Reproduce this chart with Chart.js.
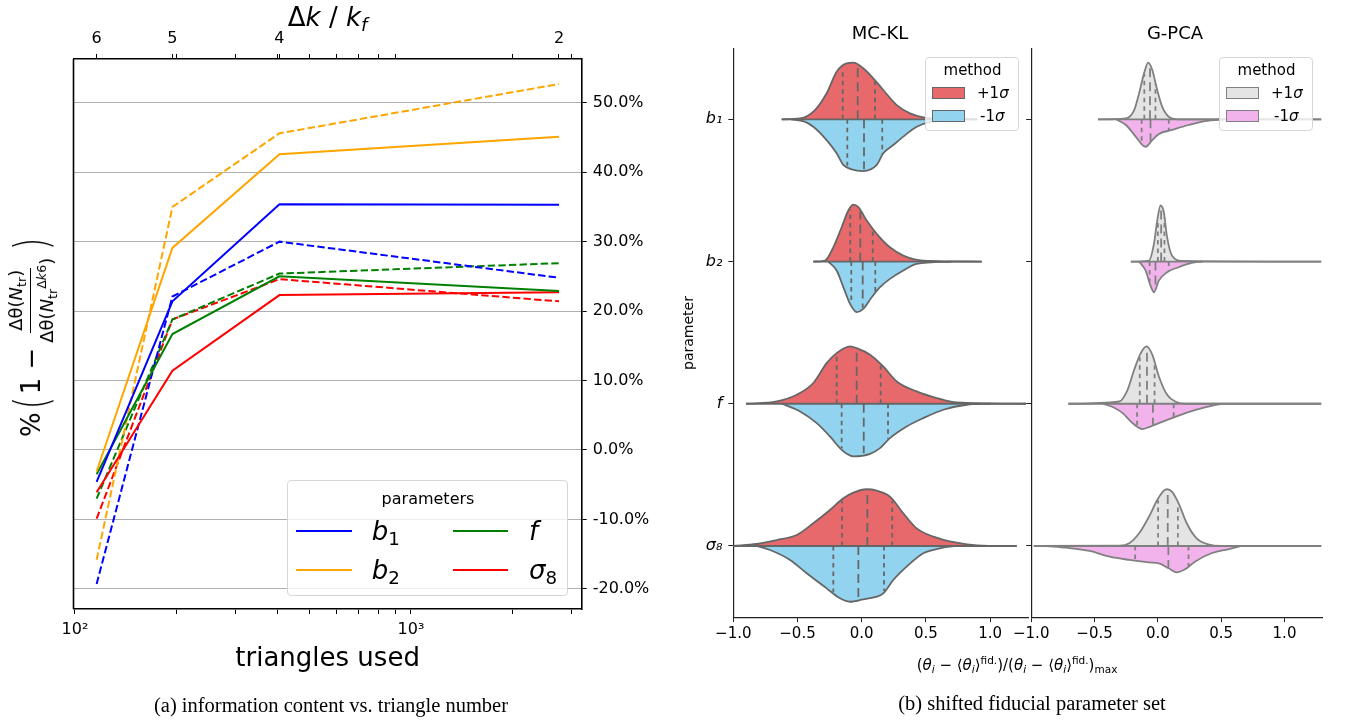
<!DOCTYPE html>
<html>
<head>
<meta charset="utf-8">
<script src="https://cdn.jsdelivr.net/npm/chart.js@4.4.1/dist/chart.umd.min.js"></script>
<style>
  body { margin: 0; background: #fff; font-family: "DejaVu Sans", sans-serif; }
  #page { position: relative; width: 1346px; height: 722px; overflow: hidden; }
  canvas { position: absolute; }
  .c { position: absolute; transform: translate(-50%, -50%); white-space: nowrap; }
  .l { position: absolute; transform: translateY(-50%); white-space: nowrap; }
  .cap { font-family: "Liberation Serif", "Times New Roman", serif; font-size: 20.5px; }
  sub { font-size: 0.7em; vertical-align: -0.3em; line-height: 0; font-style: normal; }
  sup { font-size: 0.7em; vertical-align: 0.55em; line-height: 0; }
  .legbox { position: absolute; background: rgba(255,255,255,0.8); border: 1px solid #d6d6d6; border-radius: 4px; box-sizing: border-box; }
  .hl { position: absolute; height: 2px; }
  .patch { position: absolute; height: 12px; box-sizing: border-box; border: 1px solid; }
  .frac { display: inline-flex; flex-direction: column; align-items: center; font-size: 18px; vertical-align: middle; margin: 0 3px; }
  .frac .num { border-bottom: 1.5px solid #000; padding: 0 2px 3px; line-height: 1.2; }
  .frac .den { padding: 5px 2px 0; line-height: 1.2; }
  .paren { font-size: 46px; font-weight: 200; transform: scaleX(0.7); display: inline-block; vertical-align: middle; }
</style>
</head>
<body>
<div id="page">
  <canvas id="lines" width="690" height="722" style="left:0;top:0"></canvas>
  <canvas id="mckl" width="352" height="700" style="left:680px;top:0"></canvas>
  <canvas id="gpca" width="336" height="700" style="left:1010px;top:0"></canvas>

  <!-- left panel texts -->
  <div class="c" style="left:327.6px;top:17px;font-size:26px">Δ<i>k</i> / <i>k</i><sub><i>f</i></sub></div>
  <div class="c" style="left:327.6px;top:657px;font-size:26px">triangles used</div>
  <div class="c" style="left:31px;top:336px;font-size:26px;transform:translate(-50%,-50%) rotate(-90deg);display:flex;align-items:center">
    <span>%</span><span class="paren">(</span><span>1 −</span>
    <span class="frac"><span class="num">Δθ(<i>N</i><sub>tr</sub>)</span><span class="den">Δθ(<i>N</i><sub>tr</sub><sup>Δ<i>k</i>6</sup>)</span></span>
    <span class="paren">)</span>
  </div>
  <div class="legbox" style="left:286.7px;top:480px;width:281.6px;height:115.7px"></div>
  <div class="c" style="left:428px;top:498px;font-size:16px">parameters</div>
  <div class="hl" style="left:296px;top:530px;width:56px;background:#0000ff"></div>
  <div class="l" style="left:371.7px;top:531px;font-size:26px"><i>b</i><sub>1</sub></div>
  <div class="hl" style="left:296px;top:569px;width:56px;background:#ffa500"></div>
  <div class="l" style="left:371.7px;top:570px;font-size:26px"><i>b</i><sub>2</sub></div>
  <div class="hl" style="left:453.3px;top:530px;width:55px;background:#008000"></div>
  <div class="l" style="left:529px;top:531px;font-size:26px"><i>f</i></div>
  <div class="hl" style="left:453.3px;top:569px;width:55px;background:#ff0000"></div>
  <div class="l" style="left:529px;top:570px;font-size:26px"><i>σ</i><sub>8</sub></div>
  <div class="c cap" style="left:331px;top:705px">(a) information content vs. triangle number</div>

  <!-- right panel texts -->
  <div class="c" style="left:880px;top:32px;font-size:18px">MC-KL</div>
  <div class="c" style="left:1175px;top:32px;font-size:18px">G-PCA</div>
  <div class="c" style="left:688px;top:333px;font-size:14px;transform:translate(-50%,-50%) rotate(-90deg)">parameter</div>
  <div class="c" style="left:1017px;top:665px;font-size:15px">(<i>θ</i><sub><i>i</i></sub> − ⟨<i>θ</i><sub><i>i</i></sub>⟩<sup>fid.</sup>)/(<i>θ</i><sub><i>i</i></sub> − ⟨<i>θ</i><sub><i>i</i></sub>⟩<sup>fid.</sup>)<sub>max</sub></div>
  <div class="c cap" style="left:1032px;top:703px">(b) shifted fiducial parameter set</div>

  <div class="legbox" style="left:925.3px;top:56.7px;width:94px;height:74px"></div>
  <div class="c" style="left:972.5px;top:70px;font-size:15px">method</div>
  <div class="patch" style="left:932.3px;top:86.5px;width:33px;background:#e8696b;border-color:#666"></div>
  <div class="l" style="left:977px;top:92.5px;font-size:15px">+1<i>σ</i></div>
  <div class="patch" style="left:932.3px;top:109.5px;width:33px;background:#92d4ef;border-color:#666"></div>
  <div class="l" style="left:980px;top:115.5px;font-size:15px">-1<i>σ</i></div>

  <div class="legbox" style="left:1219.3px;top:56.7px;width:94px;height:74px"></div>
  <div class="c" style="left:1266.5px;top:70px;font-size:15px">method</div>
  <div class="patch" style="left:1226px;top:86.5px;width:33px;background:#e4e4e4;border-color:#808080"></div>
  <div class="l" style="left:1271px;top:92.5px;font-size:15px">+1<i>σ</i></div>
  <div class="patch" style="left:1226px;top:109.5px;width:33px;background:#f2b3ec;border-color:#808080"></div>
  <div class="l" style="left:1274px;top:115.5px;font-size:15px">-1<i>σ</i></div>
</div>

<script>
// ---- panel (a): information content vs. number of triangles ----
const triangles = [116, 195, 406, 2757];
const dkLabels = ["6", "5", "4", "2"];
const b1Solid = [-4.6, 21.4, 35.4, 35.3];
const b1Dashed = [-19.3, 22.1, 30.0, 24.8];
const b2Solid = [-3.1, 29.1, 42.6, 45.1];
const b2Dashed = [-15.8, 35.0, 45.6, 52.7];
const fSolid = [-3.5, 16.7, 25.0, 22.9];
const fDashed = [-7.0, 18.8, 25.4, 26.9];
const s8Solid = [-6.1, 11.4, 22.3, 22.7];
const s8Dashed = [-9.9, 18.8, 24.6, 21.4];
const percentTicks = [-20, -10, 0, 10, 20, 30, 40, 50];
const logTicks = [100, 200, 300, 400, 500, 600, 700, 800, 900, 1000, 2000, 3000];
const logMinorTicks = [200, 300, 400, 500, 600, 700, 800, 900, 2000, 3000];

// ---- panel (b): violins, rows = b1, b2, f, sigma8; points are [x, half width] ----
const params = ["b₁", "b₂", "f", "σ₈"];
const xTicksB = [-1, -0.5, 0, 0.5, 1];
const mcklPlus = [
  [[-0.623,0],[-0.48,0.006],[-0.364,0.065],[-0.273,0.183],[-0.195,0.335],[-0.117,0.394],[-0.065,0.398],[0.012,0.359],[0.09,0.288],[0.168,0.206],[0.273,0.10],[0.376,0.042],[0.48,0.014],[0.6,0.003],[0.9,0]],
  [[-0.377,0],[-0.286,0.007],[-0.221,0.10],[-0.156,0.241],[-0.104,0.359],[-0.065,0.40],[-0.026,0.382],[0.039,0.288],[0.117,0.195],[0.22,0.10],[0.324,0.042],[0.48,0.007],[0.935,0]],
  [[-0.90,0],[-0.662,0.016],[-0.506,0.063],[-0.377,0.146],[-0.273,0.286],[-0.195,0.356],[-0.091,0.403],[-0.039,0.391],[0.065,0.345],[0.168,0.262],[0.273,0.157],[0.428,0.087],[0.584,0.04],[0.74,0.009],[1.28,0]],
  [[-1.0,0],[-0.818,0.014],[-0.662,0.042],[-0.506,0.077],[-0.377,0.16],[-0.247,0.253],[-0.143,0.335],[-0.065,0.375],[0.039,0.399],[0.117,0.389],[0.22,0.347],[0.324,0.23],[0.428,0.124],[0.558,0.066],[0.74,0.023],[0.9,0.005],[1.207,0]]
];
const mcklMinus = [
  [[-0.55,0],[-0.45,0.015],[-0.377,0.052],[-0.273,0.146],[-0.195,0.239],[-0.143,0.321],[-0.078,0.352],[0.012,0.364],[0.117,0.321],[0.168,0.239],[0.246,0.181],[0.324,0.122],[0.428,0.052],[0.53,0.02],[0.75,0]],
  [[-0.26,0],[-0.195,0.063],[-0.143,0.18],[-0.091,0.297],[-0.039,0.356],[0.012,0.333],[0.078,0.251],[0.143,0.18],[0.22,0.122],[0.324,0.063],[0.428,0.016],[0.7,0]],
  [[-0.62,0],[-0.48,0.054],[-0.35,0.136],[-0.247,0.23],[-0.169,0.312],[-0.117,0.352],[-0.065,0.37],[0.065,0.352],[0.143,0.312],[0.22,0.242],[0.35,0.16],[0.48,0.101],[0.636,0.042],[0.818,0.007],[1.0,0]],
  [[-0.82,0],[-0.714,0.028],[-0.558,0.098],[-0.428,0.192],[-0.273,0.298],[-0.169,0.368],[-0.091,0.392],[0.012,0.375],[0.117,0.356],[0.168,0.333],[0.246,0.239],[0.35,0.145],[0.48,0.051],[0.61,0.016],[0.72,0]]
];
const gpcaPlus = [
  [[-0.473,0],[-0.252,0.007],[-0.187,0.065],[-0.148,0.183],[-0.109,0.323],[-0.076,0.398],[-0.044,0.347],[-0.005,0.206],[0.034,0.089],[0.086,0.018],[0.16,0],[1.29,0]],
  [[-0.213,0],[-0.07,0.007],[-0.031,0.124],[-0.005,0.288],[0.021,0.394],[0.047,0.347],[0.073,0.171],[0.111,0.042],[0.19,0.005],[1.29,0]],
  [[-0.707,0],[-0.304,0.016],[-0.239,0.098],[-0.187,0.239],[-0.135,0.356],[-0.089,0.403],[-0.044,0.345],[0.008,0.192],[0.073,0.063],[0.137,0.016],[0.24,0],[1.29,0]],
  [[-0.98,0],[-0.3,0.002],[-0.226,0.019],[-0.148,0.089],[-0.07,0.206],[-0.005,0.323],[0.047,0.389],[0.073,0.399],[0.111,0.382],[0.164,0.3],[0.228,0.16],[0.306,0.054],[0.397,0.012],[0.5,0],[1.29,0]]
];
const gpcaMinus = [
  [[-0.33,0],[-0.252,0.04],[-0.175,0.122],[-0.122,0.181],[-0.097,0.193],[-0.044,0.146],[0.008,0.103],[0.111,0.075],[0.242,0.04],[0.371,0.012],[0.53,0]],
  [[-0.148,0],[-0.097,0.063],[-0.058,0.169],[-0.031,0.216],[0.008,0.134],[0.073,0.075],[0.164,0.04],[0.267,0.01],[0.35,0]],
  [[-0.434,0],[-0.356,0.023],[-0.278,0.066],[-0.2,0.136],[-0.122,0.178],[-0.07,0.164],[0.008,0.136],[0.111,0.101],[0.242,0.059],[0.371,0.026],[0.5,0]],
  [[-0.876,0],[-0.72,0.012],[-0.538,0.035],[-0.382,0.075],[-0.226,0.098],[-0.07,0.115],[0.008,0.122],[0.086,0.157],[0.15,0.185],[0.215,0.164],[0.293,0.11],[0.423,0.051],[0.553,0.023],[0.66,0]]
];
// quartiles [q1, median, q3]
const mcklPlusQ = [[-0.148,-0.031,0.104],[-0.089,-0.011,0.086],[-0.195,-0.039,0.148],[-0.153,0.044,0.238]];
const mcklMinusQ = [[-0.112,0.018,0.16],[-0.081,0.008,0.106],[-0.156,0.016,0.205],[-0.221,-0.026,0.174]];
const gpcaPlusQ = [[-0.107,-0.062,-0.019],[0.0,0.026,0.052],[-0.143,-0.086,-0.026],[0.002,0.078,0.158]];
const gpcaMinusQ = [[-0.128,-0.058,0.086],[-0.065,-0.019,0.086],[-0.164,-0.039,0.125],[-0.179,0.083,0.242]];

Chart.defaults.font.family = "DejaVu Sans";
Chart.defaults.color = "#000";
Chart.defaults.animation = false;

// draw the missing spine(s) of the left panel
const framePlugin = {
    id: "frame",
    afterDraw(chart) {
        const { ctx, chartArea: a } = chart;
        ctx.save();
        ctx.strokeStyle = "#000";
        ctx.lineWidth = 1.6;
        ctx.beginPath();
        ctx.moveTo(a.left, a.top);
        ctx.lineTo(a.left, a.bottom);
        ctx.stroke();
        ctx.restore();
    },
};

function lineSet(data, color, dashed) {
    return {
        data: triangles.map((t, i) => ({ x: t, y: data[i] })),
        borderColor: color,
        borderWidth: 2,
        borderDash: dashed ? [7.4, 3.2] : [],
        pointRadius: 0,
        fill: false,
        tension: 0,
        xAxisID: "x",
        yAxisID: "y",
    };
}

new Chart(document.getElementById("lines"), {
    type: "line",
    data: {
        datasets: [
            lineSet(b1Solid, "#0000ff", false),
            lineSet(b2Solid, "#ffa500", false),
            lineSet(fSolid, "#008000", false),
            lineSet(s8Solid, "#ff0000", false),
            lineSet(b1Dashed, "#0000ff", true),
            lineSet(b2Dashed, "#ffa500", true),
            lineSet(fDashed, "#008000", true),
            lineSet(s8Dashed, "#ff0000", true),
        ],
    },
    options: {
        responsive: false,
        layout: { padding: { left: 73.5, top: 0, right: 0, bottom: 0 } },
        plugins: { legend: { display: false }, tooltip: { enabled: false } },
        scales: {
            x: {
                type: "logarithmic",
                position: "bottom",
                min: 99,
                max: 3221,
                afterBuildTicks: (s) => { s.ticks = logTicks.map((v) => ({ value: v })); },
                afterFit: (s) => { s.height = 113; },
                ticks: {
                    autoSkip: false,
                    maxRotation: 0,
                    padding: 6,
                    font: { size: 16 },
                    callback: (v) => (v === 100 ? "10²" : v === 1000 ? "10³" : ""),
                },
                grid: { drawOnChartArea: false, tickLength: 5, tickColor: "#000" },
                border: { color: "#000", width: 1.6 },
            },
            xTop: {
                type: "logarithmic",
                position: "top",
                min: 99,
                max: 3221,
                afterBuildTicks: (s) => {
                    s.ticks = triangles.concat(logMinorTicks).map((v) => ({ value: v }));
                },
                afterFit: (s) => { s.height = 59; },
                ticks: {
                    autoSkip: false,
                    maxRotation: 0,
                    padding: 6,
                    font: { size: 16 },
                    callback: (v) => {
                        const i = triangles.indexOf(v);
                        return i >= 0 ? dkLabels[i] : "";
                    },
                },
                grid: { drawOnChartArea: false, tickLength: 5, tickColor: "#000" },
                border: { color: "#000", width: 1.6 },
            },
            y: {
                position: "right",
                min: -22.9,
                max: 56.3,
                afterBuildTicks: (s) => { s.ticks = percentTicks.map((v) => ({ value: v })); },
                afterFit: (s) => { s.width = 108.3; },
                ticks: {
                    padding: 6,
                    font: { size: 16 },
                    callback: (v) => v.toFixed(1) + "%",
                },
                grid: { color: "#b0b0b0", lineWidth: 1, tickLength: 5, tickColor: "#000" },
                border: { color: "#000", width: 1.6 },
            },
        },
    },
    plugins: [framePlugin],
});

function heightAt(curve, q) {
    for (let i = 1; i < curve.length; i++) {
        const [x0, h0] = curve[i - 1];
        const [x1, h1] = curve[i];
        if (q >= x0 && q <= x1) return h0 + ((h1 - h0) * (q - x0)) / (x1 - x0);
    }
    return 0;
}

function violinChart(id, plus, minus, plusQ, minusQ, col, yWidth, rightPad, showLabels) {
    const halves = [];
    const lines = [];
    params.forEach((p, k) => {
        [[plus[k], -1, col.plus, plusQ[k]], [minus[k], 1, col.minus, minusQ[k]]].forEach(
            ([curve, sign, fillColor, quart]) => {
                halves.push({
                    data: curve.map(([x, h]) => ({ x: x, y: k + sign * h })),
                    fill: { value: k },
                    backgroundColor: fillColor,
                    borderColor: col.line,
                    borderWidth: 1.8,
                    pointRadius: 0,
                    cubicInterpolationMode: "monotone",
                    order: 2,
                });
                quart.forEach((q, qi) => {
                    lines.push({
                        data: [{ x: q, y: k }, { x: q, y: k + sign * heightAt(curve, q) * 0.97 }],
                        borderColor: col.line,
                        borderWidth: 1.8,
                        borderDash: qi === 1 ? [9, 5] : [4.5, 4],
                        pointRadius: 0,
                        fill: false,
                        order: 1,
                    });
                });
            }
        );
        const lo = Math.min(plus[k][0][0], minus[k][0][0]);
        const hi = Math.max(plus[k][plus[k].length - 1][0], minus[k][minus[k].length - 1][0]);
        lines.push({
            data: [{ x: lo, y: k }, { x: hi, y: k }],
            borderColor: col.line,
            borderWidth: 1.8,
            pointRadius: 0,
            fill: false,
            order: 1,
        });
    });

    return new Chart(document.getElementById(id), {
        type: "line",
        data: { datasets: lines.concat(halves) },
        options: {
            responsive: false,
            layout: { padding: { top: 48.2, right: rightPad, left: 0, bottom: 0 } },
            plugins: { legend: { display: false }, tooltip: { enabled: false } },
            scales: {
                x: {
                    type: "linear",
                    min: -1,
                    max: 1.3,
                    afterBuildTicks: (s) => { s.ticks = xTicksB.map((v) => ({ value: v })); },
                    afterFit: (s) => { s.height = 82.9; },
                    ticks: {
                        padding: 3,
                        maxRotation: 0,
                        font: { size: 15 },
                        callback: (v) => (v < 0 ? "−" : "") + Math.abs(v).toFixed(1),
                    },
                    grid: { drawOnChartArea: false, tickLength: 5, tickColor: "#222" },
                    border: { color: "#222", width: 1.2 },
                },
                y: {
                    type: "linear",
                    reverse: true,
                    min: -0.5,
                    max: 3.5,
                    afterBuildTicks: (s) => { s.ticks = params.map((p, i) => ({ value: i })); },
                    afterFit: (s) => { s.width = yWidth; },
                    ticks: {
                        padding: 6,
                        font: { size: 16, style: "italic" },
                        callback: (v) => (showLabels ? params[v] : ""),
                    },
                    grid: { drawOnChartArea: false, tickLength: 5, tickColor: "#222" },
                    border: { color: "#222", width: 1.2 },
                },
            },
        },
    });
}

violinChart("mckl", mcklPlus, mcklMinus, mcklPlusQ, mcklMinusQ,
    { plus: "#e8696b", minus: "#92d4ef", line: "#666666" }, 53.3, 3.4, true);
violinChart("gpca", gpcaPlus, gpcaMinus, gpcaPlusQ, gpcaMinusQ,
    { plus: "#e4e4e4", minus: "#f2b3ec", line: "#808080" }, 17.3, 23.5, false);
</script>
</body>
</html>
